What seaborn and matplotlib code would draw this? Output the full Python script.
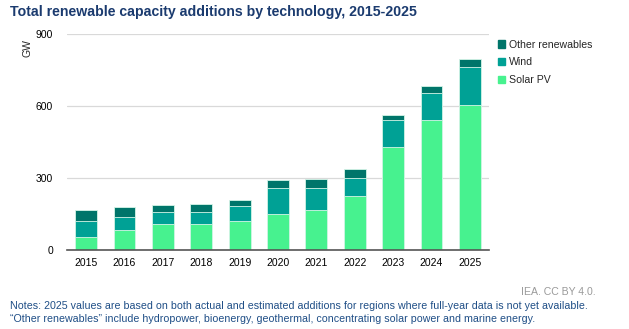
import matplotlib
matplotlib.use("Agg")
import matplotlib.pyplot as plt
import matplotlib.patches as mpatches
import seaborn as sns
import pandas as pd
import numpy as np

years = ["2015", "2016", "2017", "2018", "2019", "2020", "2021", "2022", "2023", "2024", "2025"]
solar_pv = [56, 83, 108, 108, 122, 150, 167, 225, 428, 542, 604]
wind = [65, 55, 50, 50, 61, 109, 92, 75, 114, 114, 159]
other = [46, 40, 28, 34, 27, 32, 39, 38, 21, 29, 33]

c_solar = "#47f28f"
c_wind = "#00a195"
c_other = "#00756a"

sns.set_theme(style="white")
plt.rcParams["font.family"] = ["Liberation Sans", "DejaVu Sans"]

df = pd.DataFrame({"year": years, "solar": solar_pv, "wind": wind, "other": other})
df["sw"] = df["solar"] + df["wind"]
df["total"] = df["sw"] + df["other"]

fig = plt.figure(figsize=(6.29, 3.29), dpi=100)
ax = fig.add_axes([67 / 629, 1 - 250 / 329, (489 - 67) / 629, (250 - 34.3) / 329])

edge = "#d6f5e8"
for col, colr in [("total", c_other), ("sw", c_wind), ("solar", c_solar)]:
    sns.barplot(data=df, x="year", y=col, color=colr, width=0.57, ax=ax,
                edgecolor=edge, linewidth=0.6, saturation=1, zorder=3)

ax.set_ylim(0, 900)
ax.set_xlim(-0.5, len(years) - 0.5)
ax.set_yticks([0, 300, 600, 900])
ax.yaxis.grid(True, color="#d9d9d9", linewidth=0.9, zorder=0)
ax.set_axisbelow(True)
for s in ["top", "right", "left"]:
    ax.spines[s].set_visible(False)
ax.spines["bottom"].set_color("#555555")
ax.spines["bottom"].set_linewidth(1.2)
ax.spines["bottom"].set_zorder(5)
ax.tick_params(axis="both", length=0, labelsize=7.5, colors="black")
ax.tick_params(axis="y", pad=10)
ax.tick_params(axis="x", pad=6)
ax.set_xlabel("")
ax.set_ylabel("")

fig.text(28 / 629, 1 - 48 / 329, "GW", rotation=90, fontsize=7.5, ha="center", va="center")

handles = [mpatches.Patch(color=c_other, label="Other renewables"),
           mpatches.Patch(color=c_wind, label="Wind"),
           mpatches.Patch(color=c_solar, label="Solar PV")]
fig.legend(handles=handles, loc="upper left", bbox_to_anchor=(498 / 629, 1 - 39.5 / 329),
           frameon=False, fontsize=7.6, handlelength=0.7, handleheight=0.7,
           handletextpad=0.3, labelspacing=0.75, borderaxespad=0, borderpad=0)

fig.text(10 / 629, 1 - 12 / 329, "Total renewable capacity additions by technology, 2015-2025",
         fontsize=10.2, fontweight="bold", color="#1b3b6f", ha="left", va="center")
fig.text(596 / 629, 1 - 292 / 329, "IEA. CC BY 4.0.", fontsize=7.6, color="#9a9a9a",
         ha="right", va="center")
fig.text(10 / 629, 1 - 306 / 329,
         "Notes: 2025 values are based on both actual and estimated additions for regions where full-year data is not yet available.",
         fontsize=7.7, color="#1f4e86", ha="left", va="center")
fig.text(10 / 629, 1 - 319 / 329,
         "\u201cOther renewables\u201d include hydropower, bioenergy, geothermal, concentrating solar power and marine energy.",
         fontsize=7.7, color="#1f4e86", ha="left", va="center")

fig.savefig("out.png", dpi=100)
